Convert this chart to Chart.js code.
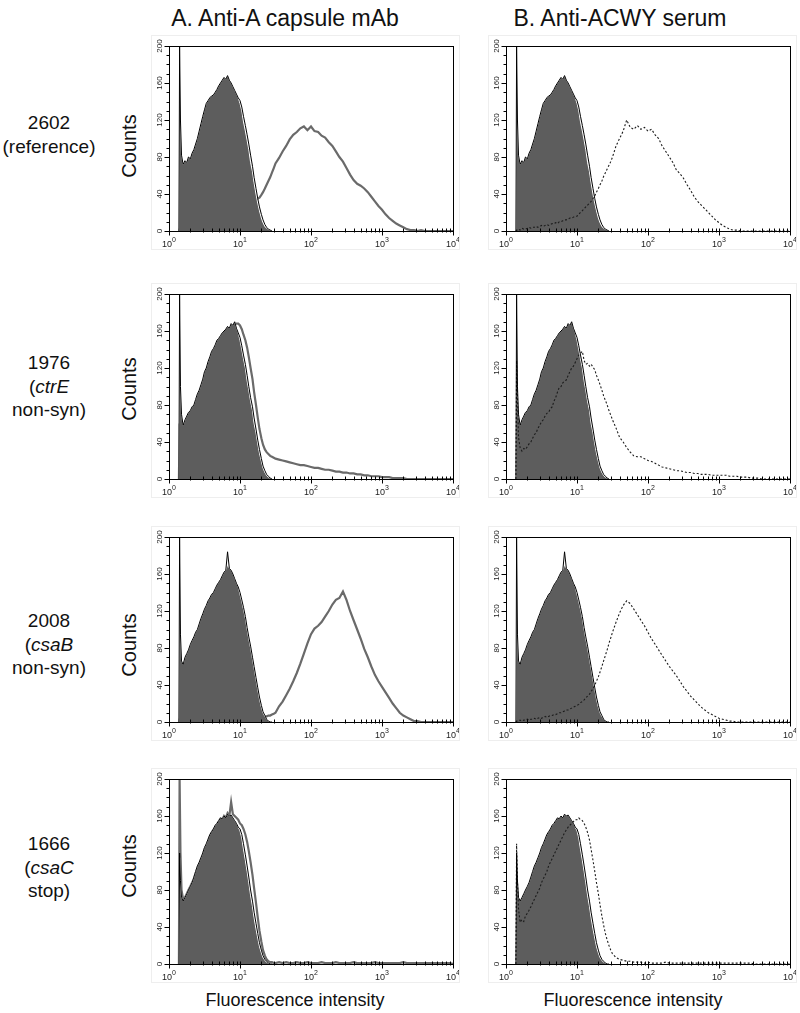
<!DOCTYPE html>
<html>
<head>
<meta charset="utf-8">
<script src="https://cdn.jsdelivr.net/npm/chart.js@4.4.0/dist/chart.umd.min.js"></script>
<style>
  body { margin: 0; background: #fff; font-family: "Liberation Sans", Arial, Helvetica, sans-serif; }
  #page { position: relative; width: 800px; height: 1013px; overflow: hidden; }
  .t { position: absolute; color: #111; white-space: nowrap; transform: translate(-50%, -50%); }
  .rl { text-align: center; font-size: 19px; line-height: 23.5px; }
  .cnt { font-size: 20px; transform: translate(-50%, -50%) rotate(-90deg); }
  canvas { position: absolute; outline: 1px solid #eeeeee; }
</style>
</head>
<body>
<div id="page">
  <div class="t" style="left:285px;top:18px;font-size:23px">A. Anti-A capsule mAb</div>
  <div class="t" style="left:620px;top:18px;font-size:23px">B. Anti-ACWY serum</div>

  <div class="t rl" style="left:49px;top:134px">2602<br>(reference)</div>
  <div class="t rl" style="left:49px;top:386px">1976<br>(<i>ctrE</i><br>non-syn)</div>
  <div class="t rl" style="left:49px;top:644px">2008<br>(<i>csaB</i><br>non-syn)</div>
  <div class="t rl" style="left:49px;top:867px">1666<br>(<i>csaC</i><br>stop)</div>

  <div class="t cnt" style="left:129px;top:146px">Counts</div>
  <div class="t cnt" style="left:129px;top:389px">Counts</div>
  <div class="t cnt" style="left:129px;top:645px">Counts</div>
  <div class="t cnt" style="left:129px;top:866px">Counts</div>

  <div class="t" style="left:295px;top:1000px;font-size:18px">Fluorescence intensity</div>
  <div class="t" style="left:633px;top:1000px;font-size:18px">Fluorescence intensity</div>
</div>

<script>
// histogram channels (fluorescence intensity, log spaced)
var FL = [1.38, 1.41, 1.45,
  1.50, 1.58, 1.68, 1.78, 1.88, 2.00, 2.11, 2.24, 2.37, 2.51, 2.66, 2.82, 2.99, 3.16, 3.35, 3.55, 3.76, 3.98,
  4.22, 4.47, 4.73, 5.01, 5.31, 5.62, 5.96, 6.31, 6.68, 7.08, 7.50, 7.94, 8.41, 8.91, 9.44,
  10.0, 10.6, 11.2, 11.9, 12.6, 13.3, 14.1, 15.0, 15.8, 16.8, 17.8, 18.8, 20.0, 21.1, 22.4, 23.7, 25.1, 26.6, 28.2, 29.9, 31.6,
  35.5, 39.8, 44.7, 50.1, 56.2, 63.1, 70.8, 79.4, 89.1,
  100, 112, 126, 141, 158, 178, 200, 224, 251, 282, 316, 355, 398, 447, 501, 562, 631, 708, 794, 891,
  1000, 1122, 1259, 1413, 1585, 1778, 1995, 2239, 2512, 2818, 3162, 3548, 3981, 4467, 5012, 5623, 6310, 7079, 7943, 8913, 10000];

// control histograms (filled) and control outlines, one per strain
var ctrl2602 = [0,168,120,82,72,76,74,80,78,84,88,94,100,108,116,124,131,138,141,144,146,147,150,153,157,160,163,166,164,168,163,160,156,152,148,144,138,130,118,108,98,88,74,64,52,40,30,22,14,9,5,3,2,1,0];
var line2602 = [0,200,120,82,72,76,74,80,78,84,88,94,100,108,116,124,131,138,141,144,146,147,150,153,157,160,163,166,164,168,163,160,156,152,148,144,141,134,124,114,104,94,82,70,58,46,35,26,18,12,7,4,2,1,0];

var ctrl1976 = [0,130,100,70,58,64,68,72,74,78,80,86,92,96,102,108,116,120,127,132,138,141,145,150,152,155,158,160,162,165,163,168,166,170,163,158,150,140,130,120,106,96,84,74,60,50,38,28,19,12,7,4,2,1,0];
var line1976 = [0,200,100,70,58,64,68,72,74,78,80,86,92,96,102,108,116,120,127,132,138,141,145,150,152,155,158,160,162,165,163,168,166,170,163,158,153,144,134,124,112,100,88,78,66,54,42,32,22,14,9,5,3,1,0];

var ctrl2008 = [0,130,95,66,62,70,74,78,84,88,92,97,100,106,112,117,122,126,131,134,138,140,144,148,151,154,158,162,164,170,166,164,160,155,150,146,138,130,122,112,100,90,80,68,58,46,35,25,16,10,6,3,1,0,0];
var line2008 = [0,200,95,66,62,70,74,78,84,88,92,97,100,106,112,117,122,126,131,134,138,140,144,148,151,154,158,162,164,184,166,164,160,155,150,146,140,132,124,114,102,92,82,70,60,48,37,27,18,11,7,3,1,0,0];

var ctrl1666 = [0,115,90,72,68,72,76,80,84,88,94,100,106,110,115,120,126,130,135,140,143,146,150,152,155,158,157,160,158,162,160,161,158,155,152,148,144,136,124,112,100,88,74,62,50,38,28,19,12,7,4,2,1,0,0];
var line1666 = [0,120,90,72,68,72,76,80,84,88,94,100,106,110,115,120,126,130,135,140,143,146,150,152,155,158,157,160,158,162,160,161,158,155,152,148,146,140,130,118,106,94,80,68,56,44,33,23,15,9,5,3,1,0,0];

// A. anti-A capsule mAb
var mab2602 = [0,2,3,
  3,4,4,5,5,6,6,7,7,8,9,9,10,11,11,12,13,14,14,15,16,17,18,18,19,20,21,22,22,23,24,25,26,
  26,27,28,29,30,31,32,32,33,34,35,36,39,42,46,50,54,58,63,68,73,
  79,86,92,99,104,107,111,113,109,113,108,107,103,101,96,92,86,80,75,68,61,55,51,49,46,42,37,32,27,23,
  18,14,11,8,6,4,2,1,1,0,1,0,0,0,0,0,0,0,0,0];
var mab1976 = [0,60,50,
  50,45,48,52,55,58,62,66,70,76,82,88,94,100,106,112,118,124,130,134,138,142,146,150,154,158,160,162,164,166,168,168,168,
  166,162,156,150,142,132,120,108,94,80,66,54,44,37,32,29,27,25,24,23,22,
  21,20,19,18,17,16,15,15,14,13,12,12,11,10,10,9,8,8,7,7,6,6,5,5,4,4,3,3,3,2,
  2,2,1,1,1,1,0,0,0,0,0,0,0,0,0,0,0,0,0,0];
var mab2008 = [0,3,3,
  2,2,3,2,3,3,2,3,3,4,3,4,4,3,4,4,5,4,5,5,4,5,6,5,5,6,5,6,6,5,6,6,6,
  6,5,6,6,5,6,6,5,6,6,5,6,6,5,6,6,7,7,8,9,10,
  17,22,29,36,44,53,63,74,85,95,101,104,108,114,120,127,132,134,141,132,120,110,100,90,79,70,60,51,44,38,
  32,26,20,15,10,7,5,3,1,1,0,0,0,0,0,0,0,0,0,0];
var mab1666 = [0,200,120,
  80,70,72,76,80,84,88,92,98,104,108,113,118,124,128,133,138,142,145,148,151,154,157,156,160,158,163,160,175,162,160,158,156,
  152,150,146,140,132,122,110,96,82,66,50,36,24,15,9,5,3,2,2,1,1,
  2,1,2,1,1,2,1,1,2,1,1,1,2,1,1,1,2,1,1,1,1,2,1,1,1,1,1,2,1,1,
  1,1,1,1,1,2,1,1,1,1,1,1,1,1,1,1,1,1,1,0];

// B. anti-ACWY serum
var acwy2602 = [0,1,1,
  2,1,3,2,2,3,4,3,4,4,5,4,5,6,5,6,7,6,7,8,8,9,8,10,10,11,12,12,13,14,14,15,16,
  16,18,20,22,24,26,28,30,32,35,38,42,46,50,54,59,63,67,71,75,80,
  92,100,108,120,112,110,114,110,112,108,110,104,100,92,86,80,74,66,62,57,50,44,37,32,28,24,20,16,12,9,
  6,4,2,1,1,0,0,0,0,0,0,0,0,0,0,0,0,0,0,0];
var acwy1976 = [0,128,90,
  45,34,30,33,32,35,38,40,44,48,50,55,58,62,64,68,71,72,76,78,84,88,94,99,100,104,106,107,112,116,120,122,126,
  130,134,136,138,128,124,125,122,124,121,118,112,107,102,96,90,85,80,74,69,64,
  55,45,40,34,29,25,24,24,22,20,19,17,15,13,12,11,10,9,9,8,7,7,6,6,5,5,5,4,4,4,
  4,4,3,3,3,2,2,2,1,1,1,0,0,0,0,0,0,0,0,0];
var acwy2008 = [0,1,1,
  1,2,1,2,2,3,2,3,3,4,3,4,5,4,5,6,5,6,7,7,8,8,9,10,10,11,12,13,13,14,15,16,17,
  18,19,21,22,24,26,28,30,33,36,40,44,49,54,60,66,72,78,85,91,97,
  108,118,126,131,128,122,116,110,104,97,90,84,78,72,66,60,55,50,44,38,33,28,24,20,16,13,10,8,6,4,
  3,2,1,1,0,0,0,0,0,0,0,0,0,0,0,0,0,0,0,0];
var acwy1666 = [0,130,90,
  60,45,48,46,52,55,58,62,66,70,74,78,82,88,92,96,100,106,110,114,118,122,126,130,134,138,142,145,148,150,152,154,156,
  156,158,156,155,152,148,142,134,124,112,100,88,76,64,52,42,33,26,20,15,11,
  7,5,4,3,3,2,2,2,1,2,1,1,1,1,2,1,1,1,1,1,1,1,1,1,1,1,1,1,1,1,
  1,1,1,1,1,1,1,1,1,0,0,0,0,0,0,0,0,0,0,0];

// axis ticks
var X_MAJOR = [1, 10, 100, 1000, 10000];
var X_EXP = ['0', '1', '2', '3', '4'];
var X_MINOR = [2, 3, 4, 5, 6, 7, 8, 9];
var Y_LABELS = [0, 40, 80, 120, 160, 200];
var Y_MINOR = [10, 20, 30, 50, 60, 70, 90, 100, 110, 130, 140, 150, 170, 180, 190];

var CTRL = [ctrl2602, ctrl1976, ctrl2008, ctrl1666];
var CTRL_LINE = [line2602, line1976, line2008, line1666];
var SAMPLE = [[mab2602, acwy2602], [mab1976, acwy1976], [mab2008, acwy2008], [mab1666, acwy1666]];

var ROW_TOP = [46, 294, 537, 779];
var COL_LEFT = [169, 506];
var PW = 284, PH = 185;
var PAD = { left: 17, right: 6, top: 10, bottom: 18 };

function pts(v) {
  var out = [];
  for (var i = 0; i < v.length && i < FL.length; i++) out.push({ x: FL[i], y: v[i] });
  return out;
}

var axesPlugin = {
  id: 'facsAxes',
  afterDatasetsDraw: function (chart) {
    var ctx = chart.ctx, a = chart.chartArea;
    var xs = chart.scales.x, ys = chart.scales.y;
    var L = Math.round(a.left) + 0.5, R = Math.round(a.right) + 0.5;
    var T = Math.round(a.top) + 0.5, B = Math.round(a.bottom) + 0.5;
    ctx.save();
    ctx.strokeStyle = '#000';
    ctx.lineWidth = 1;
    ctx.strokeRect(L, T, R - L, B - T);

    // x ticks
    ctx.beginPath();
    X_MAJOR.forEach(function (v, i) {
      var px = Math.round(xs.getPixelForValue(v)) + 0.5;
      ctx.moveTo(px, B - 3); ctx.lineTo(px, B + 4);
      if (i < X_MAJOR.length - 1) {
        X_MINOR.forEach(function (m) {
          var p = Math.round(xs.getPixelForValue(v * m)) + 0.5;
          ctx.moveTo(p, B - 3); ctx.lineTo(p, B + 1);
        });
      }
    });
    // y ticks
    Y_LABELS.forEach(function (v) {
      var py = Math.round(ys.getPixelForValue(v)) + 0.5;
      ctx.moveTo(L - 5, py); ctx.lineTo(L, py);
    });
    Y_MINOR.forEach(function (v) {
      var py = Math.round(ys.getPixelForValue(v)) + 0.5;
      ctx.moveTo(L - 3, py); ctx.lineTo(L, py);
    });
    ctx.stroke();

    // x labels 10^n
    ctx.fillStyle = '#222';
    ctx.textBaseline = 'alphabetic';
    X_MAJOR.forEach(function (v, i) {
      var px = xs.getPixelForValue(v);
      ctx.font = '9px "Liberation Sans", Arial, sans-serif';
      var w1 = ctx.measureText('10').width;
      ctx.font = '7px "Liberation Sans", Arial, sans-serif';
      var w2 = ctx.measureText(X_EXP[i]).width;
      var x0 = px - (w1 + w2) / 2;
      ctx.font = '9px "Liberation Sans", Arial, sans-serif';
      ctx.textAlign = 'left';
      ctx.fillText('10', x0, B + 15);
      ctx.font = '7px "Liberation Sans", Arial, sans-serif';
      ctx.fillText(X_EXP[i], x0 + w1, B + 10);
    });

    // y labels, rotated
    ctx.font = '8px "Liberation Sans", Arial, sans-serif';
    ctx.textAlign = 'center';
    ctx.textBaseline = 'middle';
    Y_LABELS.forEach(function (v) {
      var py = ys.getPixelForValue(v);
      ctx.save();
      ctx.translate(L - 10, py);
      ctx.rotate(-Math.PI / 2);
      ctx.fillText(String(v), 0, 0);
      ctx.restore();
    });
    ctx.restore();
  }
};

var page = document.getElementById('page');
for (var r = 0; r < 4; r++) {
  for (var c = 0; c < 2; c++) {
    var cv = document.createElement('canvas');
    var w = PW + PAD.left + PAD.right, h = PH + PAD.top + PAD.bottom;
    cv.width = w; cv.height = h;
    cv.style.left = (COL_LEFT[c] - PAD.left) + 'px';
    cv.style.top = (ROW_TOP[r] - PAD.top) + 'px';
    page.appendChild(cv);

    var outline = { data: pts(CTRL_LINE[r]), borderColor: '#000', borderWidth: 1, fill: false };
    var filled = { data: pts(CTRL[r]), borderColor: '#fff', borderWidth: 1, backgroundColor: '#5d5d5d', fill: 'origin' };
    var sets;
    if (c === 0) {
      // gray mAb curve sits behind the filled control
      sets = [outline, filled, { data: pts(SAMPLE[r][0]), borderColor: '#6a6a6a', borderWidth: 2.2, fill: false }];
    } else {
      sets = [outline, { data: pts(SAMPLE[r][1]), borderColor: '#1c1c1c', borderWidth: 1.1, borderDash: [2, 2], fill: false }, filled];
    }

    new Chart(cv, {
      type: 'line',
      data: { datasets: sets },
      options: {
        responsive: false,
        animation: false,
        events: [],
        layout: { padding: PAD },
        elements: { point: { radius: 0 }, line: { tension: 0 } },
        plugins: { legend: { display: false }, tooltip: { enabled: false } },
        scales: {
          x: { type: 'logarithmic', min: 1, max: 10000, display: false },
          y: { type: 'linear', min: 0, max: 200, display: false }
        }
      },
      plugins: [axesPlugin]
    });
  }
}
</script>
</body>
</html>
